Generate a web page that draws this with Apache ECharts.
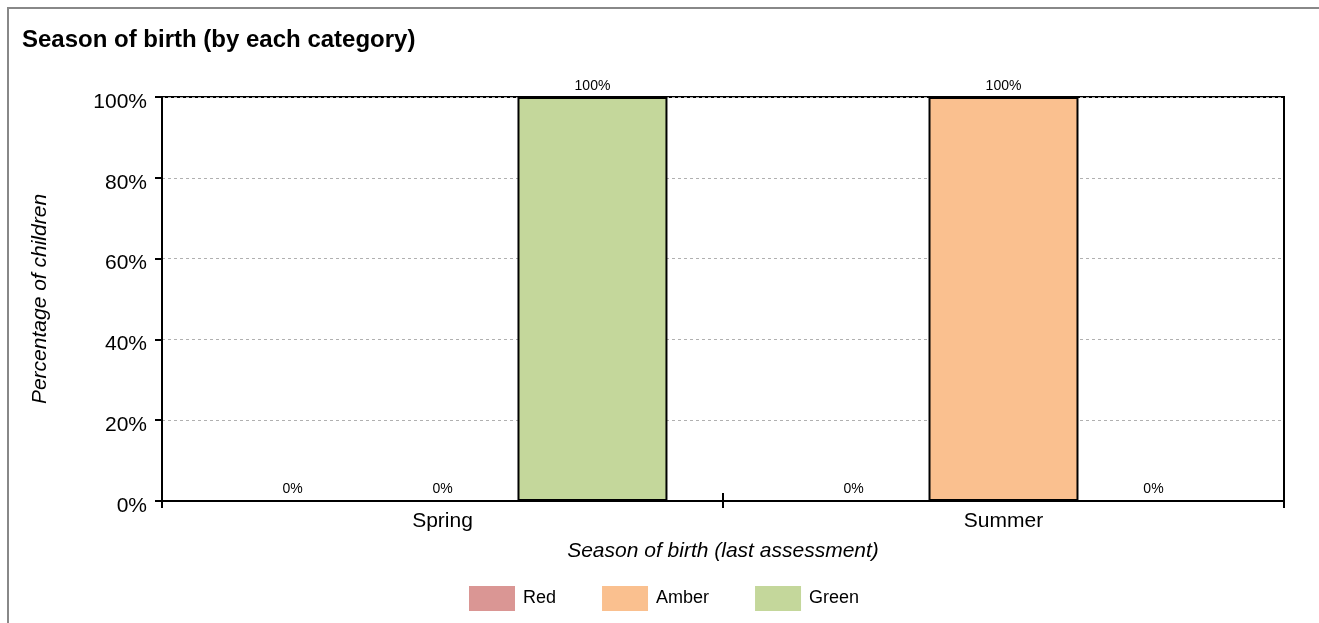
<!DOCTYPE html>
<html>
<head>
<meta charset="utf-8">
<script src="https://cdn.jsdelivr.net/npm/echarts@6/dist/echarts.min.js"></script>
<style>
html,body{margin:0;padding:0;background:#fff;}
#c{width:1319px;height:623px;}
</style>
</head>
<body>
<div id="c"></div>
<script>
const categories = ['Spring', 'Summer'];
const redValues = [0, 0];
const amberValues = [0, 100];
const greenValues = [100, 0];
const yTicks = [0, 20, 40, 60, 80, 100];

const chart = echarts.init(document.getElementById('c'), null, {renderer: 'canvas'});
const font = 'Liberation Sans, Arial, sans-serif';

function bar(name, data, color) {
  return {
    name: name,
    type: 'bar',
    data: data,
    barGap: '0%',
    barCategoryGap: '19.8%',
    itemStyle: {color: color, borderColor: '#000', borderWidth: 2},
    label: {
      show: true, position: 'top', distance: 4,
      formatter: p => p.value + '%',
      fontFamily: font, fontSize: 14, color: '#000'
    }
  };
}

chart.setOption({
  animation: false,
  backgroundColor: '#fff',
  textStyle: {fontFamily: font},
  graphic: [{
    type: 'rect',
    shape: {x: 8, y: 8, width: 1400, height: 700},
    style: {fill: 'none', stroke: '#888', lineWidth: 2},
    silent: true
  }],
  title: {
    text: 'Season of birth (by each category)',
    left: 17, top: 23,
    textStyle: {fontFamily: font, fontSize: 24, fontWeight: 'bold', color: '#000'}
  },
  grid: {
    left: 162, right: 35, top: 97, bottom: 122,
    show: true, borderColor: '#000', borderWidth: 2, backgroundColor: 'transparent'
  },
  legend: {
    bottom: 7, left: 464,
    itemWidth: 46, itemHeight: 25, itemGap: 46,
    icon: 'rect',
    itemStyle: {borderWidth: 0},
    textStyle: {fontFamily: font, fontSize: 18, color: '#000', padding: [0, 0, 0, 3]},
    data: ['Red', 'Amber', 'Green']
  },
  xAxis: [{
    type: 'category',
    data: categories,
    name: 'Season of birth (last assessment)',
    nameLocation: 'middle',
    nameGap: 40,
    nameTextStyle: {fontFamily: font, fontSize: 21, fontStyle: 'italic', color: '#000'},
    axisLine: {lineStyle: {color: '#000', width: 2}},
    axisTick: {show: true, length: 7, lineStyle: {color: '#000', width: 2}},
    axisLabel: {fontFamily: font, fontSize: 21, color: '#000', margin: 10},
    splitLine: {show: false},
    z: 5
  }, {
    type: 'category',
    data: categories,
    position: 'bottom',
    axisLine: {show: false},
    axisTick: {show: true, inside: true, length: 8, lineStyle: {color: '#000', width: 2}},
    axisLabel: {show: false},
    splitLine: {show: false},
    z: 5
  }],
  yAxis: {
    type: 'value',
    min: yTicks[0], max: yTicks[yTicks.length - 1], interval: 20,
    name: 'Percentage of children',
    nameLocation: 'middle',
    nameGap: 111,
    nameRotate: 90,
    nameTextStyle: {fontFamily: font, fontSize: 21, fontStyle: 'italic', color: '#000'},
    axisLine: {show: true, lineStyle: {color: '#000', width: 2}},
    axisTick: {show: true, length: 7, lineStyle: {color: '#000', width: 2}},
    axisLabel: {
      fontFamily: font, fontSize: 21, color: '#000', margin: 15,
      formatter: v => '{a|' + v + '%}',
      rich: {a: {fontFamily: font, fontSize: 21, color: '#000', padding: [10, 0, 0, 0]}}
    },
    splitLine: {show: true, lineStyle: {color: '#b0b0b0', type: [3, 3], width: 1}}
  },
  series: [
    bar('Red', redValues, '#da9694'),
    bar('Amber', amberValues, '#fac08f'),
    bar('Green', greenValues, '#c4d79b')
  ]
});
</script>
</body>
</html>
